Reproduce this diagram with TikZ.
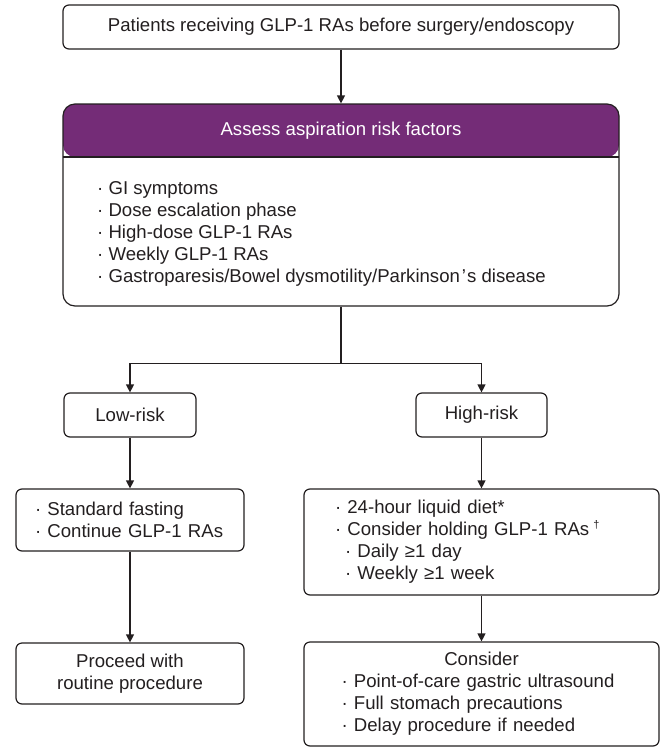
\documentclass[tikz,border=0pt]{standalone}
\usepackage{fontspec}
\setmainfont{Liberation Sans}
\usetikzlibrary{arrows.meta}
\definecolor{assesspurple}{RGB}{116,44,119}
\definecolor{inkgray}{RGB}{35,31,32}

\begin{document}
\begin{tikzpicture}[x=1pt,y=-1pt,
    every node/.style={font=\fontsize{18.6}{22}\selectfont, text=inkgray},
    flowbox/.style={draw=inkgray, line width=1.2pt, fill=white, rounded corners=6pt, inner sep=0pt},
    listtext/.style={inner sep=0pt, align=left},
    flowline/.style={draw=inkgray, line width=1.2pt},
    flowarrow/.style={flowline, -{Triangle[length=8pt,width=8pt]}}]
    \useasboundingbox (0,0) rectangle (665,748);
    % top
    \node[flowbox, minimum width=556pt, minimum height=44pt] (patients) at (341,27) {Patients receiving GLP-1 RAs before surgery/endoscopy};
    % risk factors
    \node[flowbox, rounded corners=12pt, minimum width=556pt, minimum height=202pt,
        path picture={
            \fill[assesspurple] (path picture bounding box.north west) rectangle ([yshift=-53pt]path picture bounding box.north east);
            \draw[inkgray, line width=1.2pt] ([yshift=-53pt]path picture bounding box.north west) -- ([yshift=-53pt]path picture bounding box.north east);
        }] (assess) at (341,205) {};
    \node[text=white] (assesstitle) at (341,131) {Assess aspiration risk factors};
    \node[listtext, anchor=west] (riskfactors) at (97,233.5) {· GI symptoms\\
        · Dose escalation phase\\
        · High-dose GLP-1 RAs\\
        · Weekly GLP-1 RAs\\
        · Gastroparesis/Bowel dysmotility/Parkinson\hspace{2pt}’\hspace{1pt}s disease};
    % branches
    \node[flowbox, minimum width=132pt, minimum height=44pt] (lowrisk) at (130,415) {Low-risk};
    \node[flowbox, minimum width=131pt, minimum height=44pt] (highrisk) at (481.5,415) {High-risk};
    \node[flowbox, text width=190pt, inner xsep=19pt, minimum height=62pt, align=left] (lowplan) at (130,520) {· Standard fasting\\
        · Continue GLP-1 RAs};
    \node[flowbox, text width=293pt, inner xsep=31pt, minimum height=106pt, align=left] (highplan) at (481.5,542) {· 24-hour liquid diet*\\
        · Consider holding GLP-1 RAs\hspace{4pt}\raisebox{7pt}{\fontsize{11}{11}\selectfont †}\\
        \hspace{10pt}· Daily ≥1 day\\
        \hspace{10pt}· Weekly ≥1 week};
    \node[flowbox, minimum width=228pt, minimum height=61pt, align=center] (proceed) at (130,673.5) {Proceed with\\ routine procedure};
    \node[flowbox, text width=280pt, inner xsep=37.5pt, minimum height=104pt, align=left] (consider) at (481.5,694) {\makebox[280pt]{Consider}\\
        · Point-of-care gastric ultrasound\\
        · Full stomach precautions\\
        · Delay procedure if needed};
    % connectors
    \coordinate (split) at ([yshift=-57pt]assess.south);
    \draw[flowarrow] (patients) -- (assess);
    \draw[flowline] (assess.south) -- (split);
    \draw[flowarrow] (split) -| (lowrisk.north);
    \draw[flowarrow] (split) -| (highrisk.north);
    \draw[flowarrow] (lowrisk) -- (lowplan);
    \draw[flowarrow] (highrisk) -- (highplan);
    \draw[flowarrow] (lowplan) -- (proceed);
    \draw[flowarrow] (highplan) -- (consider);
\end{tikzpicture}
\end{document}
